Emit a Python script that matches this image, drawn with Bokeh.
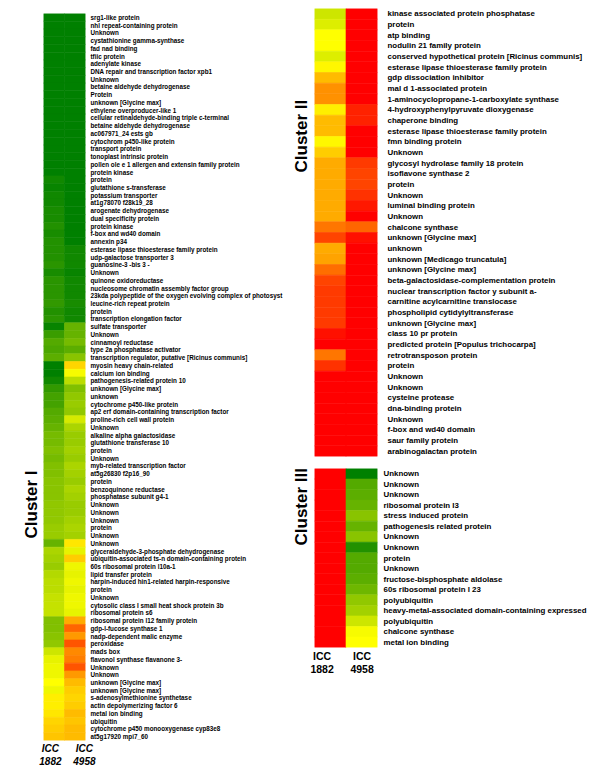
import math
from bokeh.plotting import figure
from bokeh.models import ColumnDataSource, LinearColorMapper, LinearAxis, FixedTicker, Range1d, Title
from bokeh.transform import transform
from bokeh.layouts import row, column
from bokeh.embed import file_html
from bokeh.resources import INLINE

# ---------------- data ----------------
samples = ["ICC 1882", "ICC 4958"]

c1_labels = [
    "srg1-like protein", "nhl repeat-containing protein", "Unknown", "cystathionine gamma-synthase",
    "fad nad binding", "tfiic protein", "adenylate kinase", "DNA repair and transcription factor xpb1",
    "Unknown", "betaine aldehyde dehydrogenase", "Protein", "unknown [Glycine max]",
    "ethylene overproducer-like 1", "cellular retinaldehyde-binding triple c-terminal",
    "betaine aldehyde dehydrogenase", "ac067971_24  ests gb", "cytochrom p450-like protein",
    "transport protein", "tonoplast intrinsic protein",
    "pollen ole e 1 allergen  and extensin family protein", "protein kinase", "protein",
    "glutathione s-transferase", "potassium transporter", "at1g78070 f28k19_28",
    "arogenate dehydrogenase", "dual specificity protein", "protein kinase", "f-box and wd40 domain",
    "annexin p34", "esterase lipase thioesterase family protein", "udp-galactose transporter 3",
    "guanosine-3 -bis 3 -", "Unknown", "quinone oxidoreductase",
    "nucleosome chromatin assembly factor group",
    "23kda polypeptide of the oxygen evolving complex of photosyst", "leucine-rich repeat protein",
    "protein", "transcription elongation factor", "sulfate transporter", "Unknown",
    "cinnamoyl reductase", "type 2a phosphatase activator",
    "transcription regulator, putative [Ricinus communis]", "myosin heavy chain-related",
    "calcium ion binding", "pathogenesis-related protein 10", "unknown [Glycine max]", "unknown",
    "cytochrome p450-like protein", "ap2 erf domain-containing transcription factor",
    "proline-rich cell wall protein", "Unknown", "alkaline alpha galactosidase",
    "glutathione transferase 10", "protein", "Unknown", "myb-related transcription factor",
    "at5g26830 f2p16_90", "protein", "benzoquinone reductase", "phosphatase subunit g4-1",
    "Unknown", "Unknown", "Unknown", "protein", "Unknown", "Unknown",
    "glyceraldehyde-3-phosphate dehydrogenase", "ubiquitin-associated ts-n domain-containing protein",
    "60s ribosomal protein l10a-1", "lipid transfer protein",
    "harpin-induced hin1-related harpin-responsive", "protein", "Unknown",
    "cytosolic class I small heat shock protein 3b", "ribosomal protein s6",
    "ribosomal protein l12 family protein", "gdp-l-fucose synthase 1", "nadp-dependent malic enzyme",
    "peroxidase", "mads box", "flavonol synthase flavanone 3-", "Unknown", "Unknown",
    "unknown [Glycine max]", "unknown [Glycine max]", "s-adenosylmethionine synthetase",
    "actin depolymerizing factor 6", "metal ion binding", "ubiquitin",
    "cytochrome p450 monooxygenase cyp83e8", "at5g17920 mpi7_60",
]
c1_icc1882 = [
    -3, -3, -3, -3, -3, -3, -3, -3, -3, -3,
    -3, -3, -3, -3, -3, -3, -3, -3, -3, -3,
    -3, -2.8, -2.9, -2.8, -2.8, -2.7, -2.7, -2.6, -2.7, -2.6,
    -2.6, -2.6, -2.5, -2.7, -2.5, -2.5, -2.5, -2.4, -2.6, -2.5,
    -2.9, -2.3, -2.0, -2.1, -1.9, -3, -3, -2.8, -2.4, -2.2,
    -2.2, -2.0, -1.9, -1.8, -1.6, -1.6, -1.5, -1.6, -1.5, -1.5,
    -1.4, -1.4, -1.4, -1.3, -1.3, -1.3, -1.2, -1.2, -1.8, -1.0,
    -1.1, -1.2, -0.9, -0.8, -0.8, -0.7, -0.7, -0.7, -1.5, -1.5,
    -1.4, -1.3, -0.6, -0.3, -0.2, -0.2, 0.0, -0.2, 0.2, 0.2,
    0.3, 0.5, 0.6, 0.7,
]
c1_icc4958 = [
    -3, -3, -3, -3, -3, -3, -3, -3, -3, -3,
    -3, -3, -3, -3, -3, -3, -3, -3, -3, -3,
    -3, -3, -3, -3, -3, -3, -3, -3, -3, -3,
    -2.8, -2.8, -2.8, -2.9, -2.8, -2.8, -2.8, -2.7, -2.8, -2.8,
    -1.8, -1.8, -1.6, -1.9, -1.4, 0.5, -0.1, -0.8, -1.5, -1.3,
    -1.2, -1.3, -0.5, -1.0, -1.2, -1.2, -1.1, -1.2, -1.0, -1.1,
    -1.2, -1.0, -1.1, -1.2, -1.2, -1.1, -1.0, -1.1, 0.3, -0.3,
    0.6, -0.2, -0.3, -0.2, -0.3, -0.2, -0.2, -0.3, 1.0, 1.8,
    1.2, 2.0, 1.4, 1.5, 2.0, 1.2, 0.8, 0.6, 0.5, 0.6,
    0.8, 0.7, 0.8, 0.8,
]

c2_labels = [
    "kinase associated protein phosphatase", "protein", "atp binding", "nodulin 21 family protein",
    "conserved hypothetical protein [Ricinus communis]", "esterase lipase thioesterase family protein",
    "gdp dissociation inhibitor", "mal d 1-associated protein",
    "1-aminocyclopropane-1-carboxylate synthase", "4-hydroxyphenylpyruvate dioxygenase",
    "chaperone binding", "esterase lipase thioesterase family protein", "fmn binding protein",
    "Unknown", "glycosyl hydrolase family 18 protein", "isoflavone synthase 2", "protein", "Unknown",
    "luminal binding protein", "Unknown", "chalcone synthase", "unknown [Glycine max]", "unknown",
    "unknown [Medicago truncatula]", "unknown [Glycine max]",
    "beta-galactosidase-complementation protein", "nuclear transcription factor y subunit a-",
    "carnitine acylcarnitine translocase", "phospholipid cytidylyltransferase",
    "unknown [Glycine max]", "class 10 pr protein", "predicted protein [Populus trichocarpa]",
    "retrotransposon protein", "protein", "Unknown", "Unknown", "cysteine protease",
    "dna-binding protein", "Unknown", "f-box and wd40 domain", "saur family protein",
    "arabinogalactan protein",
]
c2_icc1882 = [
    -0.6, -0.4, 0.0, 0.0, -0.4, 0.1, 0.8, 1.3, 1.3, 0.2,
    0.8, 0.8, 0.1, 0.6, 1.0, 1.0, 1.0, 1.0, 1.0, 1.0,
    1.6, 2.2, 1.0, 1.1, 1.7, 2.2, 2.3, 2.3, 2.3, 2.3,
    2.8, 3.0, 1.6, 2.4, 3.0, 3.0, 3.0, 3.0, 3.0, 3.0,
    3.0, 3.0,
]
c2_icc4958 = [
    3.0, 3.0, 3.0, 3.0, 3.0, 3.0, 3.0, 3.0, 3.0, 2.6,
    2.6, 3.0, 3.0, 3.0, 2.3, 2.2, 2.2, 2.4, 2.7, 3.0,
    1.8, 2.8, 3.0, 3.0, 3.0, 3.0, 3.0, 3.0, 3.0, 3.0,
    3.0, 3.0, 3.0, 3.0, 3.0, 3.0, 3.0, 3.0, 3.0, 3.0,
    3.0, 3.0,
]

c3_labels = [
    "Unknown", "Unknown", "Unknown", "ribosomal protein l3", "stress induced protein",
    "pathogenesis related protein", "Unknown", "Unknown", "protein", "Unknown",
    "fructose-bisphosphate aldolase", "60s ribosomal protein l 23", "polyubiquitin",
    "heavy-metal-associated domain-containing expressed", "polyubiquitin", "chalcone synthase",
    "metal ion binding",
]
c3_icc1882 = [3.0, 3.0, 3.0, 3.0, 3.0, 3.0, 3.0, 3.0, 3.0, 3.0, 3.0, 3.0, 3.0, 3.0, 3.0, 3.0, 3.0]
c3_icc4958 = [-3.0, -2.0, -1.9, -1.8, -1.4, -1.8, -1.4, -2.6, -2.0, -2.0, -1.9, -1.7, -1.3, -1.1, -0.6, -0.1, 0.0]

# ---------------- colour scale (green - yellow - red) ----------------
def _lerp(c0, c1, t):
    return "#%02x%02x%02x" % tuple(int(round(a + (b - a) * t)) for a, b in zip(c0, c1))

GREEN, YELLOW, RED = (0, 128, 0), (255, 255, 0), (255, 0, 0)
palette = [_lerp(GREEN, YELLOW, i / 127) for i in range(128)] + [_lerp(YELLOW, RED, i / 127) for i in range(128)]
mapper = LinearColorMapper(palette=palette, low=-3, high=3)

FONT = "Liberation Sans"


def heat(labels, a, b, fw, fh, ml, mr, mt, mb, lab_size, lab_standoff,
         icc_ticks, icc_size, icc_style, title, title_offset, title_standoff, with_icc=True):
    n = len(labels)
    p = figure(frame_width=fw, frame_height=fh,
               x_range=Range1d(-0.5, 1.5), y_range=Range1d(n - 0.5, -0.5),
               output_backend="svg", toolbar_location=None,
               x_axis_location=None, y_axis_location=None,
               min_border_left=ml, min_border_right=mr, min_border_top=mt, min_border_bottom=mb,
               outline_line_color=None, background_fill_color="white", border_fill_color="white")
    p.grid.visible = False
    src = ColumnDataSource(dict(x=[0] * n + [1] * n, y=list(range(n)) * 2, v=list(a) + list(b)))
    p.rect("x", "y", 1, 1, source=src, fill_color=transform("v", mapper),
           line_color=transform("v", mapper), line_width=0.6)

    yax = LinearAxis(ticker=FixedTicker(ticks=list(range(n))),
                     major_label_overrides={i: labels[i] for i in range(n)},
                     axis_line_color=None, major_tick_line_color=None, minor_tick_line_color=None,
                     major_tick_in=0, major_tick_out=0, major_label_standoff=lab_standoff,
                     major_label_text_font=FONT, major_label_text_font_style="bold",
                     major_label_text_font_size=lab_size, major_label_text_color="black")
    p.add_layout(yax, "right")

    if with_icc:
        parts = [s.split(" ") for s in samples]
        for k, standoff in ((0, 2), (1, 0)):
            xax = LinearAxis(ticker=FixedTicker(ticks=icc_ticks),
                             major_label_overrides={icc_ticks[j]: parts[j][k] for j in range(2)},
                             axis_line_color=None, major_tick_line_color=None, minor_tick_line_color=None,
                             major_tick_in=0, major_tick_out=0, major_label_standoff=standoff,
                             major_label_text_font=FONT, major_label_text_font_style=icc_style,
                             major_label_text_font_size=icc_size, major_label_text_color="black")
            p.add_layout(xax, "below")

    p.add_layout(Title(text=title, align="left", offset=title_offset, standoff=title_standoff,
                       text_font=FONT, text_font_style="bold", text_font_size="17px",
                       text_color="black"), "left")
    return p


p1 = heat(c1_labels, c1_icc1882, c1_icc4958, 42, 727, 43, 200, 13, 0, "6.3px", 5,
          [-0.17, 1.45], "10px", "bold italic", "Cluster I", 202, 6)
p2 = heat(c2_labels, c2_icc1882, c2_icc4958, 63, 448, 29, 215, 8, 6, "7.9px", 10,
          [-0.26, 1.01], "10.5px", "bold", "Cluster II", 284, 7, with_icc=False)
p3 = heat(c3_labels, c3_icc1882, c3_icc4958, 63, 179, 29, 215, 6, 0, "7.9px", 6,
          [-0.26, 1.01], "10.5px", "bold", "Cluster III", 102, 7)

layout = row(p1, column(p2, p3))
open("out.html", "w").write(file_html(layout, INLINE))
